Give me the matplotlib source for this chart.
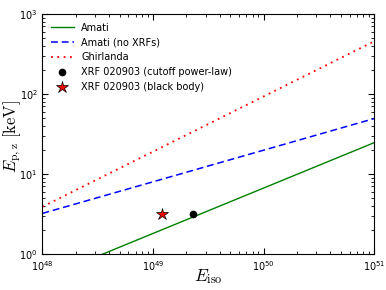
import numpy as np
import matplotlib
matplotlib.use('Agg')
import matplotlib.pyplot as plt

# lineas (extremos en escala log)
e_lin = [1e48, 1e51]
amati = [0.49, 24.6]
amati_noxrf = [3.22, 49.2]
ghirlanda = [3.9, 454.0]

# XRF 020903
e_cpl = [2.29e49]
ep_cpl = [3.2]
e_bb = [1.2e49]
ep_bb = [3.2]

plt.rcParams['font.size'] = 7
plt.rcParams['xtick.direction'] = 'in'
plt.rcParams['ytick.direction'] = 'in'
plt.rcParams['xtick.top'] = True
plt.rcParams['ytick.right'] = True
plt.rcParams['xtick.major.size'] = 4
plt.rcParams['ytick.major.size'] = 4
plt.rcParams['xtick.minor.size'] = 2
plt.rcParams['ytick.minor.size'] = 2
plt.rcParams['xtick.major.pad'] = 4

fig = plt.figure(figsize=(3.86, 2.9), dpi=100)
ax = fig.add_axes([0.110, 0.124, 0.859, 0.828])

ax.plot(e_lin, amati, color='g', ls='-', lw=1, label='Amati')
ax.plot(e_lin, amati_noxrf, color='b', ls=(0, (4.5, 2.5)), lw=1.1, label='Amati (no XRFs)')
ax.plot(e_lin, ghirlanda, color='r', ls=(0, (1, 2.5)), lw=1.3, label='Ghirlanda')
ax.plot(e_cpl, ep_cpl, 'ko', ms=4.5, label='XRF 020903 (cutoff power-law)')
ax.plot(e_bb, ep_bb, marker='*', color='r', mec='k', mew=0.5, ls='none', ms=9,
        label='XRF 020903 (black body)')

ax.set_xscale('log')
ax.set_yscale('log')
ax.set_xlim(1e48, 1e51)
ax.set_ylim(1, 1e3)

ax.set_xlabel(r'$E_{\rm iso}$', fontsize=12.5, math_fontfamily='cm')
ax.set_ylabel(r'$E_{\rm p,z}\ [\rm keV]$', fontsize=12, math_fontfamily='cm')
ax.xaxis.set_label_coords(0.5, -0.055)
ax.yaxis.set_label_coords(-0.06, 0.49)

ax.legend(loc='upper left', frameon=False, fontsize=7, numpoints=1,
          handlelength=2.3, labelspacing=0.5, borderaxespad=0.5)

plt.savefig('out.png')
plt.close()
